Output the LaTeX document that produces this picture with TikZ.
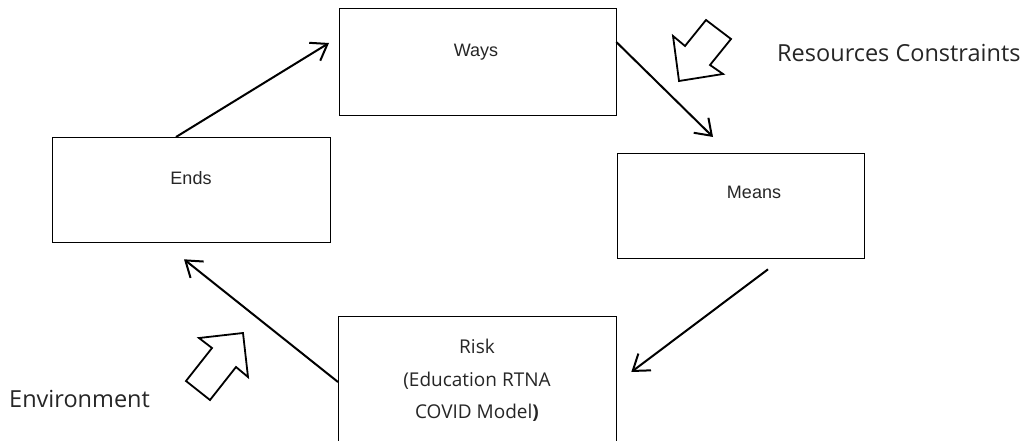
\documentclass[tikz,border=0pt]{standalone}
\usepackage{fontspec}
\setmainfont{Liberation Sans}
\newfontfamily\uifont{Open Sans}
\usetikzlibrary{arrows.meta}
\tikzset{
  box/.style={draw=black, line width=1.3pt, inner sep=0pt, anchor=north west, fill=white},
  lbl/.style={anchor=base, inner sep=0pt, text=black!85, font=\fontsize{18}{22}\selectfont},
  risklbl/.style={anchor=base, inner sep=0pt, text=black!85, font=\uifont\fontsize{19}{23}\selectfont},
  biglbl/.style={anchor=base west, inner sep=0pt, text=black!85, font=\uifont\fontsize{23.5}{28}\selectfont},
  flow/.style={line width=2pt, -{Straight Barb[length=15pt,width=21pt,line width=2pt]}},
  blockarrow/.style={draw=black, line width=1.8pt, line join=miter, fill=white}
}
\begin{document}
\begin{tikzpicture}[x=1pt,y=-1pt]
\useasboundingbox (0,0) rectangle (1027,441);
\clip (0,0) rectangle (1027,441);
% boxes
\node[box, minimum width=278pt, minimum height=105pt] (ends) at (52,137) {};
\node[box, minimum width=277pt, minimum height=107pt] (ways) at (339,8) {};
\node[box, minimum width=247pt, minimum height=105pt] (means) at (617,153) {};
\node[box, minimum width=278pt, minimum height=160pt] (risk) at (338,316) {};
% labels
\node[lbl] (endst) at (191,184) {Ends};
\node[lbl] (wayst) at (476,57) {Ways};
\node[lbl] (meanst) at (754,198) {Means};
\node[risklbl] (risk1) at (477,353) {Risk};
\node[risklbl] (risk2) at (477,386) {(Education RTNA};
\node[risklbl] (risk3) at (477,418) {COVID Model\textbf{)}};
\node[biglbl] (env) at (9,407) {Environment};
\node[biglbl] (res) at (777,62) {Resources Constraints};
% connectors
\draw[flow] ([xshift=124pt]ends.north west) -- ([xshift=-10pt,yshift=-35pt]ways.north west);
\draw[flow] ([xshift=-1pt,yshift=-34pt]ways.north east) -- ([xshift=96pt,yshift=16pt]means.north west);
\draw[flow] ([xshift=151pt,yshift=-10pt]means.south west) -- ([xshift=14pt,yshift=-56pt]risk.north east);
\draw[flow] ([yshift=-66pt]risk.north west) -- ([xshift=132pt,yshift=-16pt]ends.south west);
% block arrows
\draw[blockarrow] (199,338) -- (243,333) -- (248,377) -- (236,367) -- (210,400) -- (186,381) -- (212,348) -- cycle;
\draw[blockarrow] (673,36) -- (685,46) -- (706,20) -- (731,39) -- (710,65) -- (723,74) -- (679,81) -- cycle;
\end{tikzpicture}
\end{document}
